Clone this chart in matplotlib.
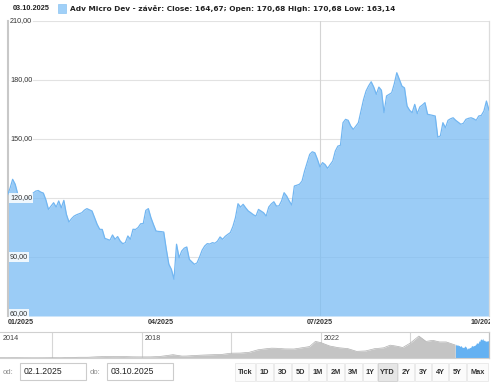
import numpy as np
import matplotlib
matplotlib.use('Agg')
import matplotlib.pyplot as plt
from matplotlib.patches import Rectangle
from matplotlib.transforms import Bbox, blended_transform_factory

plt.rcParams['font.family'] = ['Liberation Sans', 'DejaVu Sans']

# trading sessions of 2025 (0 = 2 Jan 2025) and closing prices
sessions = [0, 1, 2, 3, 4, 5, 6, 7, 8, 9, 10, 11, 12, 13, 14, 15, 16, 18, 19, 20,
            21, 22, 23, 24, 25, 26, 27, 28, 29, 30, 31, 32, 33, 34, 35, 36, 37, 38, 39, 40,
            41, 42, 43, 44, 45, 46, 47, 48, 49, 50, 51, 52, 53, 54, 55, 56, 57, 58, 59, 60,
            61, 62, 63, 64, 65, 66, 67, 68, 69, 70, 71, 72, 73, 74, 75, 76, 77, 78, 79, 80,
            81, 82, 83, 84, 85, 86, 87, 88, 89, 90, 91, 92, 93, 94, 95, 96, 97, 98, 100, 101,
            102, 103, 104, 105, 106, 107, 108, 109, 110, 111, 112, 113, 114, 115, 116, 117, 118, 119, 120, 121,
            122, 123, 124, 125, 126, 127, 128, 129, 130, 131, 132, 133, 134, 135, 136, 137, 138, 139, 140, 141,
            142, 143, 144, 145, 146, 147, 148, 149, 150, 151, 152, 153, 154, 155, 156, 157, 158, 159, 160, 161,
            162, 163, 164, 165, 166, 167, 168, 169, 170, 171, 172, 173, 174, 175, 176, 177, 178, 179, 180, 181,
            182, 183, 184, 185, 186, 187, 188]
closes = [121.5, 125.0, 129.5, 127.0, 122.0, 119.5, 119.0, 121.0, 119.5, 121.0, 122.5, 123.5, 123.8, 123.0, 122.5, 119.0, 114.2, 117.6, 115.4, 118.5,
          115.0, 118.8, 111.7, 107.8, 109.5, 110.8, 111.5, 112.0, 112.5, 113.8, 114.6, 114.0, 113.4, 110.0, 106.6, 104.1, 104.0, 99.5, 99.0, 98.5,
          101.2, 99.0, 100.4, 98.1, 96.8, 97.3, 100.7, 99.0, 104.1, 104.0, 105.0, 106.9, 107.0, 113.7, 114.6, 110.0, 106.5, 103.2, 103.0, 102.9,
          102.7, 94.0, 86.3, 83.7, 78.7, 96.5, 89.6, 93.0, 94.5, 95.1, 88.8, 87.5, 86.3, 87.0, 90.0, 93.5, 95.6, 96.8, 96.6, 97.3,
          97.0, 98.1, 100.2, 99.0, 100.5, 101.5, 102.4, 105.5, 110.0, 117.1, 115.4, 116.8, 115.0, 113.4, 112.5, 111.5, 110.8, 114.2, 112.5, 110.8,
          115.4, 117.0, 118.1, 115.9, 116.0, 118.5, 122.7, 121.0, 118.5, 116.4, 126.1, 126.5, 127.0, 128.6, 133.7, 138.0, 142.2, 143.5, 143.0, 139.7,
          135.8, 138.0, 137.0, 135.1, 137.0, 138.8, 143.9, 146.4, 146.8, 158.3, 160.0, 159.5, 156.6, 154.9, 156.5, 158.3, 164.2, 170.0, 174.4, 177.0,
          179.1, 176.4, 172.7, 176.4, 174.8, 163.4, 171.9, 172.7, 173.5, 178.0, 183.7, 180.3, 176.9, 176.0, 166.8, 164.6, 163.4, 167.6, 162.9, 166.3,
          167.3, 168.5, 162.6, 162.3, 162.0, 161.7, 151.0, 151.5, 158.3, 155.7, 159.5, 160.3, 160.8, 159.5, 158.5, 157.5, 158.0, 160.0, 160.5, 160.8,
          160.3, 159.5, 161.7, 162.0, 164.2, 169.3, 164.67]

month_ticks = [0, 60, 122, 186]
month_labels = ['01/2025', '04/2025', '07/2025', '10/2025']
price_ticks = [90, 120, 150, 180, 210]
price_labels = ['60,00', '90,00', '120,00', '150,00', '180,00', '210,00']

# navigator history (year, close)
nav_years = [2014.84, 2015.0, 2015.2, 2015.4, 2015.6, 2015.8, 2016.0, 2016.2, 2016.4, 2016.6,
             2016.8, 2017.0, 2017.2, 2017.4, 2017.6, 2017.8, 2018.0, 2018.2, 2018.4, 2018.55,
             2018.7, 2018.9, 2019.0, 2019.2, 2019.4, 2019.6, 2019.8, 2020.0, 2020.2, 2020.4,
             2020.6, 2020.75, 2020.9, 2021.0, 2021.2, 2021.4, 2021.6, 2021.75, 2021.88, 2022.0,
             2022.2, 2022.4, 2022.6, 2022.8, 2023.0, 2023.2, 2023.4, 2023.55, 2023.7, 2023.83,
             2024.0, 2024.19, 2024.35, 2024.5, 2024.65, 2024.8, 2025.0]
nav_closes = [2.7, 2.6, 2.9, 2.2, 1.9, 2.1, 2.9, 2.4, 4.6, 6.8,
              6.9, 11.3, 13.5, 12.5, 13.5, 11.0, 10.3, 10.5, 14.0, 22.0,
              31.0, 18.0, 18.5, 24.0, 28.0, 31.0, 34.0, 45.0, 46.0, 53.0,
              77.0, 85.0, 92.0, 91.0, 85.0, 84.0, 97.0, 107.0, 155.0, 144.0,
              112.0, 96.0, 88.0, 62.0, 66.0, 87.0, 95.0, 120.0, 110.0, 98.0,
              140.0, 205.0, 155.0, 165.0, 150.0, 150.0, 121.5]
nav_grid_years = [2016, 2018, 2020, 2022, 2024]
nav_label_years = ['2018', '2022']

buttons = ['Tick', '1D', '3D', '5D', '1M', '2M', '3M', '1Y', 'YTD', '2Y', '3Y', '4Y', '5Y', 'Max']
button_edges = [235, 256, 274, 292, 309, 327, 345, 363, 378, 398, 415, 432, 449, 467, 489]

W, H = 500, 391


def fx(px):
	return px / W


def fy(py):
	return 1 - py / H


fig = plt.figure(figsize=(W / 100, H / 100), dpi=100)

# ---- main chart
ax = fig.add_axes([fx(7.5), fy(316), (489 - 7.5) / W, (316 - 21) / H])
ax.set_xlim(0, 188)
ax.set_ylim(60, 210)

for t in price_ticks:
	ax.axhline(t, color='#e2e2e2', lw=0.8, zorder=1)
ax.axvline(122, color='#d4d4d4', lw=0.8, zorder=1)

ax.fill_between(sessions, closes, 60, color='#7abcf4', alpha=0.75, lw=0, zorder=2)
ax.plot(sessions, closes, color='#72b6f1', lw=0.9, zorder=3)

for s in ['top', 'bottom']:
	ax.spines[s].set_visible(False)
ax.spines['left'].set_color('#c8c8c8')
ax.spines['left'].set_linewidth(1.5)
ax.spines['right'].set_color('#dcdcdc')
ax.spines['right'].set_linewidth(0.9)

ax.set_yticks([])
ytr = blended_transform_factory(fig.transFigure, ax.transData)
for t, lab in zip([60] + price_ticks, price_labels):
	yy = t + 1.2 if t == 60 else t
	ax.text(fx(10), yy, lab, transform=ytr, ha='left', va='center', fontsize=5.2,
			color='#333333', zorder=5,
			bbox=dict(boxstyle='square,pad=0.15', fc='white', ec='none', alpha=0.85))

ax.set_xticks(month_ticks)
ax.set_xticklabels(month_labels, fontsize=5.1, fontweight='bold', color='#333333')
ax.tick_params(axis='x', length=0, pad=2.2)
xl = ax.get_xticklabels()
xl[0].set_horizontalalignment('left')
xl[-1].set_clip_on(True)
xl[-1].set_clip_box(Bbox([[0, 0], [490, H]]))

# ---- header
fig.text(fx(13), fy(8.5), '03.10.2025', fontsize=5.3, fontweight='bold', color='#222222', va='center')
fig.patches.append(Rectangle((fx(58), fy(13)), 8 / W, 9 / H, transform=fig.transFigure,
							 fc='#a0d0f8', ec='#8cc4f2', lw=0.5))
fig.text(fx(70), fy(8.5), 'Adv Micro Dev - závěr: Close: 164,67; Open: 170,68 High: 170,68 Low: 163,14',
		 fontsize=5.35, fontweight='bold', color='#222222', va='center', family='DejaVu Sans')

# ---- navigator
nav = fig.add_axes([0, fy(358), 489 / W, 26 / H])
nav.set_xlim(2014.839, 2025.755)
nav.set_ylim(0, 243)
for gy in nav_grid_years:
	nav.axvline(gy, color='#d6d6d6', lw=0.8, zorder=1)
nav.fill_between(nav_years, nav_closes, 0, color='#c4c4c4', lw=0, zorder=2)
nav.plot(nav_years, nav_closes, color='#b0b0b0', lw=0.5, zorder=3)
ytd_years = [2025.005 + s / 188 * 0.75 for s in sessions]
nav.fill_between(ytd_years, closes, 0, color='#64b1f2', lw=0, zorder=2)
nav.set_xticks([])
nav.set_yticks([])
nav.spines['left'].set_visible(False)
for s in ['top', 'bottom']:
	nav.spines[s].set_color('#d0d0d0')
	nav.spines[s].set_linewidth(0.8)
nav.spines['right'].set_color('#c0c0c0')
nav.spines['right'].set_linewidth(0.9)
ntr = blended_transform_factory(nav.transData, nav.transAxes)
nav.text(0.006, 0.76, '2014', transform=nav.transAxes, fontsize=5.2, color='#444444', va='center')
for lab in nav_label_years:
	nav.text(int(lab) + 0.07, 0.76, lab, transform=ntr, fontsize=5.2, color='#444444', va='center')

# ---- range inputs and buttons
fig.text(fx(3), fy(372), 'od:', fontsize=5.5, color='#8a8a8a', va='center')
fig.text(fx(90), fy(372), 'do:', fontsize=5.5, color='#8a8a8a', va='center')
for x0, x1, txt in [(20, 86, '02.1.2025'), (107, 173, '03.10.2025')]:
	fig.patches.append(Rectangle((fx(x0), fy(380)), (x1 - x0) / W, 17 / H, transform=fig.transFigure,
								 fc='white', ec='#cccccc', lw=0.8))
	fig.text(fx(x0 + 4), fy(372), txt, fontsize=6.2, color='#222222', va='center')

for i, b in enumerate(buttons):
	x0, x1 = button_edges[i], button_edges[i + 1]
	sel = b == 'YTD'
	fig.patches.append(Rectangle((fx(x0), fy(381)), (x1 - x0 - 1) / W, 18 / H, transform=fig.transFigure,
								 fc='#e6e6e6' if sel else '#fbfbfb', ec='#cfcfcf' if sel else '#e8e8e8', lw=0.6))
	fig.text(fx((x0 + x1 - 1) / 2), fy(372), b, fontsize=5.3, fontweight='bold', color='#333333',
			 ha='center', va='center')

plt.savefig('out.png', dpi=100)
